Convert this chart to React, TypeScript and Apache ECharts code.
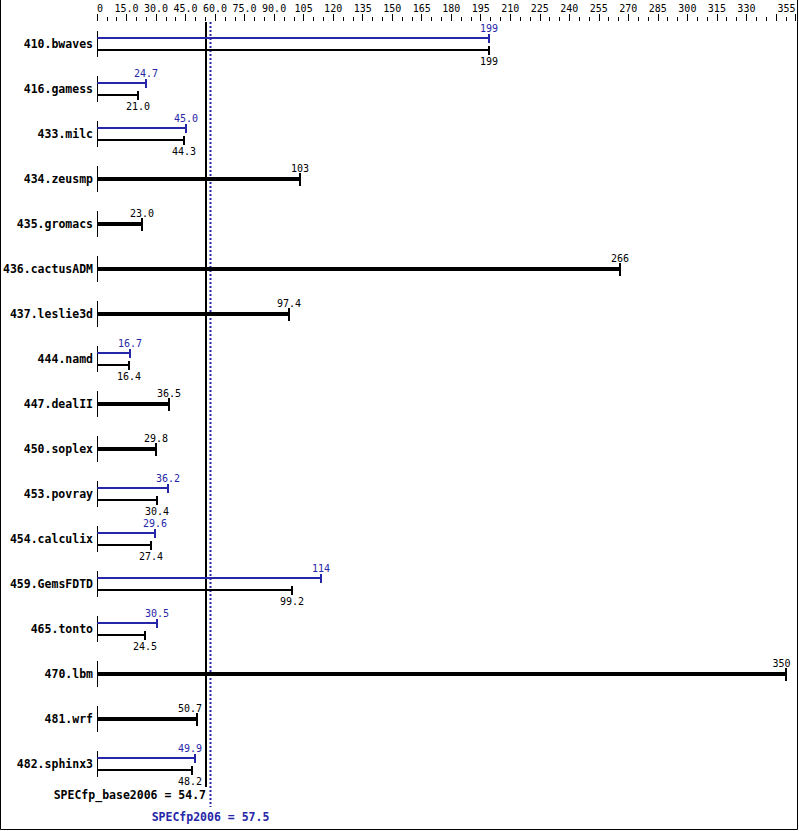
import React, { useEffect, useRef } from "react";
import * as echarts from "echarts";

const CATEGORIES = [
  "410.bwaves", "416.gamess", "433.milc", "434.zeusmp", "435.gromacs", "436.cactusADM",
  "437.leslie3d", "444.namd", "447.dealII", "450.soplex", "453.povray", "454.calculix",
  "459.GemsFDTD", "465.tonto", "470.lbm", "481.wrf", "482.sphinx3",
];
const BASE_VALUES = [199, 21.0, 44.3, 103, 23.0, 266, 97.4, 16.4, 36.5, 29.8, 30.4, 27.4, 99.2, 24.5, 350, 50.7, 48.2];
const PEAK_VALUES: (number | null)[] = [199, 24.7, 45.0, null, null, null, null, 16.7, null, null, 36.2, 29.6, 114, 30.5, null, null, 49.9];

const BASE_SCORE = 54.7;
const PEAK_SCORE = 57.5;
const BASE_SCORE_LABEL = "SPECfp_base2006 = 54.7";
const PEAK_SCORE_LABEL = "SPECfp2006 = 57.5";

const AXIS_MIN = 0;
const AXIS_MAX = 355;
const MAJOR_TICKS = [0, 15, 30, 45, 60, 75, 90, 105, 120, 135, 150, 165, 180, 195, 210, 225, 240, 255, 270, 285, 300, 315, 330, 345, 355];
const LABEL_TICKS = [0, 15, 30, 45, 60, 75, 90, 105, 120, 135, 150, 165, 180, 195, 210, 225, 240, 255, 270, 285, 300, 315, 330, 355];
const MINOR_TICKS = [5, 10, 20, 25, 35, 40, 50, 55, 65, 70, 80, 85, 95, 100, 110, 115, 125, 130, 140, 145, 155, 160, 170, 175, 185, 190, 200, 205, 215, 220, 230, 235, 245, 250, 260, 265, 275, 280, 290, 295, 305, 310, 320, 325, 335, 340, 350];

const BLUE = "#2626a8";
const BLACK = "#000000";
const MONO = '"DejaVu Sans Mono", "Liberation Mono", monospace';
const VALUE_FONT = `10px ${MONO}`;
const BOLD_FONT = `bold 11.5px ${MONO}`;
const CHAR_W = 6.02;

function fmtValue(v: number): string {
  return v.toPrecision(3);
}
function fmtTick(v: number): string {
  if (v === 0) return "0";
  if (v < 100) return v.toFixed(1);
  return String(v);
}

export default function App() {
  const ref = useRef<HTMLDivElement>(null);

  useEffect(() => {
    if (!ref.current) return;
    const chart = echarts.init(ref.current, null, { renderer: "svg" });

    const rows = CATEGORIES.map((_, i) => {
      const p = PEAK_VALUES[i];
      return [i, BASE_VALUES[i], p == null ? 0 : p, p == null ? 0 : 1];
    });

    const textEl = (text: string, x: number, y: number, fill: string, font: string, align = "center") => ({
      type: "text",
      style: {
        text, x, y, fill, font,
        align, verticalAlign: "middle",
        textAlign: align, textVerticalAlign: "middle",
      },
    });

    const rowRender = (params: any, api: any) => {
      const idx = api.value(0);
      const base = api.value(1);
      const peak = api.value(2);
      const hasPeak = api.value(3) === 1;
      const cs = params.coordSys;
      const c0 = api.coord([0, idx]);
      const x0 = Math.round(c0[0]);
      const cy = Math.round(c0[1]);
      const blX = api.coord([BASE_SCORE, idx])[0] + 1;
      const rightLimit = cs.x + cs.width - 5;
      const placeLabel = (text: string, xe: number) => {
        const w = text.length * CHAR_W;
        let cx = xe;
        const gap = 3.5;
        if (cx + w / 2 > blX - gap && cx - w / 2 < blX + gap) {
          if (cx <= blX + 6) cx = blX - gap - w / 2;
          else cx = blX + gap + w / 2;
        }
        if (cx + w / 2 > rightLimit) cx = rightLimit - w / 2;
        return cx;
      };
      const children: any[] = [];
      children.push({
        type: "rect",
        shape: { x: x0, y: cy - 13, width: 1, height: 26 },
        style: { fill: BLACK },
      });
      if (hasPeak) {
        const yb = cy - 6;
        const yk = cy + 6;
        const xp = Math.round(api.coord([peak, idx])[0]);
        const xb = Math.round(api.coord([base, idx])[0]);
        children.push({ type: "rect", shape: { x: x0, y: yb - 1, width: xp - x0, height: 2 }, style: { fill: BLUE } });
        children.push({ type: "rect", shape: { x: xp - 1, y: yb - 4, width: 2, height: 9 }, style: { fill: BLUE } });
        children.push({ type: "rect", shape: { x: x0, y: yk - 1, width: xb - x0, height: 2 }, style: { fill: BLACK } });
        children.push({ type: "rect", shape: { x: xb - 1, y: yk - 4, width: 2, height: 9 }, style: { fill: BLACK } });
        const tp = fmtValue(peak);
        const tb = fmtValue(base);
        children.push(textEl(tp, placeLabel(tp, xp), yb - 10, BLUE, VALUE_FONT));
        children.push(textEl(tb, placeLabel(tb, xb), yk + 11.5, BLACK, VALUE_FONT));
      } else {
        const xb = Math.round(api.coord([base, idx])[0]);
        children.push({ type: "rect", shape: { x: x0, y: cy - 2, width: xb - x0, height: 4 }, style: { fill: BLACK } });
        children.push({ type: "rect", shape: { x: xb - 1, y: cy - 6, width: 2, height: 13 }, style: { fill: BLACK } });
        const tb = fmtValue(base);
        children.push(textEl(tb, placeLabel(tb, xb), cy - 11, BLACK, VALUE_FONT));
      }
      return { type: "group", children };
    };

    const refRender = (params: any, api: any) => {
      const cs = params.coordSys;
      const bx = Math.round(api.coord([api.value(0), 0])[0]);
      const px = Math.round(api.coord([api.value(1), 0])[0] - 0.5) + 0.5;
      const top = Math.round(cs.y + 1);
      const bottom = Math.round(cs.y + cs.height);
      return {
        type: "group",
        children: [
          { type: "rect", shape: { x: bx, y: top, width: 2, height: bottom + 1 - top }, style: { fill: BLACK } },
          {
            type: "line",
            shape: { x1: px, y1: top, x2: px, y2: bottom + 21 },
            style: { stroke: BLUE, lineWidth: 2, lineDash: [2, 2] },
          },
          textEl(BASE_SCORE_LABEL, bx + 1, bottom + 9, BLACK, BOLD_FONT, "right"),
          textEl(PEAK_SCORE_LABEL, px, bottom + 30.5, BLUE, BOLD_FONT, "center"),
        ],
      };
    };

    chart.setOption({
      animation: false,
      backgroundColor: "#ffffff",
      grid: { left: 97, right: 3.4, top: 21, bottom: 45, containLabel: false },
      xAxis: [
        {
          type: "value",
          position: "top",
          min: AXIS_MIN,
          max: AXIS_MAX,
          axisLine: { show: false },
          splitLine: { show: false },
          axisTick: {
            show: true,
            length: 7,
            inside: false,
            customValues: MAJOR_TICKS,
            lineStyle: { color: BLACK, width: 1 },
          },
          axisLabel: {
            show: true,
            customValues: LABEL_TICKS,
            formatter: (v: number) => fmtTick(v),
            margin: 8,
            color: BLACK,
            fontFamily: MONO,
            fontSize: 10,
            alignMinLabel: "left",
            alignMaxLabel: "right",
            showMinLabel: true,
            showMaxLabel: true,
            hideOverlap: false,
          },
        },
        {
          type: "value",
          position: "top",
          min: AXIS_MIN,
          max: AXIS_MAX,
          axisLine: { show: false },
          splitLine: { show: false },
          axisTick: {
            show: true,
            length: 4,
            inside: false,
            customValues: MINOR_TICKS,
            lineStyle: { color: BLACK, width: 1 },
          },
          axisLabel: { show: false },
        },
      ],
      yAxis: {
        type: "category",
        data: CATEGORIES,
        inverse: true,
        axisLine: { show: false },
        axisTick: { show: false },
        splitLine: { show: false },
        axisLabel: {
          margin: 4,
          color: BLACK,
          fontFamily: MONO,
          fontWeight: "bold",
          fontSize: 11.5,
        },
      },
      graphic: [
        {
          type: "polyline",
          shape: { points: [[0.5, 0], [0.5, 829.5], [797.5, 829.5], [797.5, 0]] },
          style: { stroke: BLACK, lineWidth: 1, fill: null },
          silent: true,
        },
      ],
      series: [
        {
          type: "custom",
          name: "scores",
          xAxisIndex: 0,
          yAxisIndex: 0,
          z: 1,
          clip: false,
          renderItem: refRender,
          encode: { x: [0, 1], y: 2 },
          data: [[BASE_SCORE, PEAK_SCORE, 0]],
        },
        {
          type: "custom",
          name: "benchmarks",
          xAxisIndex: 0,
          yAxisIndex: 0,
          z: 2,
          clip: false,
          renderItem: rowRender,
          encode: { y: 0, x: [1, 2] },
          data: rows,
        },
      ],
    });

    return () => chart.dispose();
  }, []);

  return (
    <div
      ref={ref}
      style={{ position: "absolute", left: 0, top: 0, width: 799, height: 831, background: "#fff" }}
    />
  );
}
